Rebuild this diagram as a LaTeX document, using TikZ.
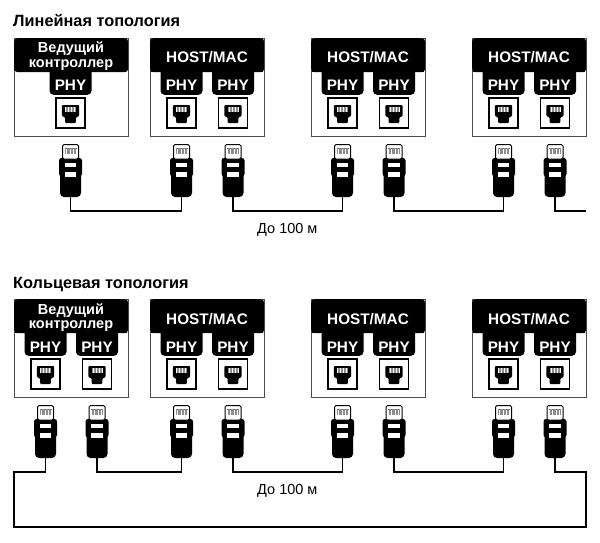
\documentclass[tikz,border=0pt]{standalone}
\usepackage{fontspec}
\setmainfont{Liberation Sans}
\begin{document}
\begin{tikzpicture}[
  x=1pt, y=-1pt,
  boxframe/.style={draw=black!70, line width=1pt, fill=white, minimum width=114pt, minimum height=98pt, inner sep=0pt, anchor=north west},
  hdr/.style={fill=black, rounded corners=3.5pt, minimum width=114pt, minimum height=34pt, inner sep=0pt, anchor=north west},
  phytab/.style={fill=black, rounded corners=4pt, minimum width=42pt, minimum height=29pt, inner sep=0pt, anchor=south},
  wtxt/.style={text=white, font=\bfseries\fontsize{15.3}{18}\selectfont, inner sep=0pt, anchor=base},
  wtxts/.style={text=white, font=\bfseries\fontsize{14.5}{16}\selectfont, inner sep=0pt, anchor=base},
  ttl/.style={font=\bfseries\fontsize{16.3}{19}\selectfont, inner sep=0pt, anchor=base west},
  lbl/.style={font=\fontsize{14.5}{17}\selectfont, inner sep=0pt, anchor=base west},
  cable/.style={line width=1.2pt, draw=black},
  rjplug/.pic={
    \fill[black] (-11.5,18) [rounded corners=2.5pt] -- (-11.5,14) -- (11.5,14) [sharp corners] -- (11.5,30) -- (10.5,32) [rounded corners=4pt] -- (10.5,53) -- (-10.5,53) [sharp corners] -- (-10.5,32) -- (-11.5,30) -- cycle;
    \filldraw[fill=white, draw=black, line width=1pt, rounded corners=1.5pt] (-8,0.5) rectangle (8,15);
    \draw[black!60, line width=0.5pt] (-6,4) -- (6,4);
    \foreach \i in {-5,-3.6,...,5.2} \draw[black!45, line width=0.6pt] (\i,4) -- (\i,10);
    \fill[white] (-5.7,19) rectangle (5.7,23.3);
    \fill[white] (-5.7,28) rectangle (5.7,33.3);
    \coordinate (-bot) at (0,53);
  },
  rjjack/.pic={
    \filldraw[fill=white, draw=black, line width=1.3pt] (-14.5,-15) rectangle (14.5,15);
    \fill[black, rounded corners=1pt] (-8.7,-8) -- (8.7,-8) -- (8.7,3) -- (5.3,4.5) -- (5.3,10) -- (-5.3,10) -- (-5.3,4.5) -- (-8.7,3) -- cycle;
    \fill[white] (-5.5,-6.3) rectangle (5.5,-1.3);
    \foreach \i in {-4.5,-3,...,4.6} \draw[black!45, line width=0.6pt] (\i,-6.3) -- (\i,-1.3);
  }
]
\useasboundingbox (0,0) rectangle (600,543);
\fill[white] (0,0) rectangle (600,543);

% titles
\node[ttl] (title1) at (13,27) {Линейная топология};
\node[ttl] (title2) at (13,288) {Кольцевая топология};

% ---------- boxes with HOST/MAC (both rows) ----------
\foreach \r/\dy in {t/0, b/261} {
  \foreach \b/\xo in {B/150, C/311, D/472} {
    \node[boxframe] (\r\b) at (\xo,38+\dy) {};
    \node[hdr] (\r\b h) at (\xo,38+\dy) {};
    \node[phytab] (\r\b t1) at (\xo+31.5,95+\dy) {};
    \node[phytab] (\r\b t2) at (\xo+83,95+\dy) {};
    \fill[black] (\xo+1,66+\dy) rectangle (\xo+113,72+\dy);
    \node[wtxt] (\r\b x) at (\xo+57,63+\dy) {HOST/MAC};
    \node[wtxt] (\r\b p1) at (\xo+31.5,91+\dy) {PHY};
    \node[wtxt] (\r\b p2) at (\xo+83,91+\dy) {PHY};
    \pic (\r\b j1) at (\xo+31.5,113+\dy) {rjjack};
    \pic (\r\b j2) at (\xo+83,113+\dy) {rjjack};
    \pic (\r\b g1) at (\xo+31.5,144+\dy) {rjplug};
    \pic (\r\b g2) at (\xo+83,144+\dy) {rjplug};
  }
}

% ---------- master controller, linear (one PHY) ----------
\node[boxframe] (tA) at (14,38) {};
\node[hdr] (tAh) at (14,38) {};
\node[phytab] (tAt1) at (70.5,95) {};
\node[wtxts] (tAx1) at (71,53) {Ведущий};
\node[wtxts] (tAx2) at (71,67) {контроллер};
\node[wtxt] (tAp1) at (70.5,91) {PHY};
\pic (tAj1) at (70.5,113) {rjjack};
\pic (tAg1) at (70.5,144) {rjplug};

% ---------- master controller, ring (two PHY) ----------
\node[boxframe] (bA) at (14,299) {};
\node[hdr] (bAh) at (14,299) {};
\node[phytab] (bAt1) at (45.5,356) {};
\node[phytab] (bAt2) at (97,356) {};
\fill[black] (15,327) rectangle (127,333);
\node[wtxts] (bAx1) at (71,314) {Ведущий};
\node[wtxts] (bAx2) at (71,328) {контроллер};
\node[wtxt] (bAp1) at (45.5,352) {PHY};
\node[wtxt] (bAp2) at (97,352) {PHY};
\pic (bAj1) at (45.5,374) {rjjack};
\pic (bAj2) at (97,374) {rjjack};
\pic (bAg1) at (45.5,405) {rjplug};
\pic (bAg2) at (97,405) {rjplug};

% ---------- cables: linear ----------
\coordinate (tEnd) at (586,211);
\draw[cable] (tAg1-bot) -- ++(0,14) -| (tBg1-bot);
\draw[cable] (tBg2-bot) -- ++(0,14) -| (tCg1-bot);
\draw[cable] (tCg2-bot) -- ++(0,14) -| (tDg1-bot);
\draw[cable] (tDg2-bot) -- ++(0,14) -- (tEnd);
\node[lbl] (len1) at (257,233) {До 100 м};

% ---------- cables: ring ----------
\coordinate (ringL) at (14,527);
\coordinate (ringR) at (586,527);
\draw[cable] (bAg2-bot) -- ++(0,14) -| (bBg1-bot);
\draw[cable] (bBg2-bot) -- ++(0,14) -| (bCg1-bot);
\draw[cable] (bCg2-bot) -- ++(0,14) -| (bDg1-bot);
\draw[cable] (bAg1-bot) -- ++(0,14) -| (ringL) -- (ringR) -- ++(0,-55) -| (bDg2-bot);
\node[lbl] (len2) at (257,494) {До 100 м};
\end{tikzpicture}
\end{document}
